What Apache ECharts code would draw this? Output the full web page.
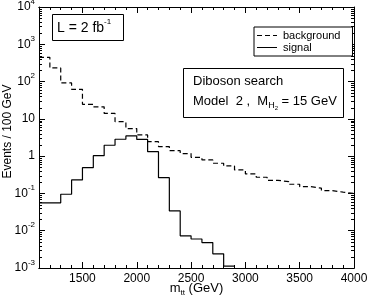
<!DOCTYPE html>
<html><head><meta charset="utf-8">
<script src="https://cdn.jsdelivr.net/npm/echarts@6/dist/echarts.min.js"></script>
<style>html,body{margin:0;padding:0;background:#fff}#c{width:369px;height:300px}</style>
</head><body><div id="c"></div>
<script>
// ---- data ----
const binStart = [1100,1200,1300,1400,1500,1600,1700,1800,1900,2000,2100,2200,2300,2400,2500,2600,2700,2800,2900,3000,3100,3200,3300,3400,3500,3600,3700,3800,3900];
const binWidth = 100;
const background = [448,232,92,62,24.6,21,14,8.4,5.5,3.7,2.45,1.8,1.4,1.17,0.93,0.79,0.645,0.546,0.427,0.333,0.272,0.225,0.207,0.176,0.152,0.138,0.119,0.108,0.1];
const signal = [0.056,0.056,0.095,0.23,0.49,1.03,1.96,2.84,3.48,2.8,1.32,0.265,0.034,0.0073,0.006,0.0048,0.0024,0.00112];
const xTickLabels = [1500,2000,2500,3000,3500,4000];
const yDecades = [-3,-2,-1,0,1,2,3,4];

const FONT = 'Liberation Sans';
const xMin = 1100, xMax = 4000, yMin = 0.001, yMax = 10000;

function steps(vals){
  const pts = []; let last = -1;
  vals.forEach((v,i)=>{ if(v!=null){ pts.push([binStart[i], v]); last = i; } });
  pts.push([binStart[last] + binWidth, vals[last]]);
  return pts;
}
// minor log tick positions (axis decoration)
const minorVals = [];
yDecades.slice(0,-1).forEach(e=>{ for(let m=2;m<=9;m++) minorVals.push([xMin, m*Math.pow(10,e)]); });

const black = '#000';
const chart = echarts.init(document.getElementById('c'), null, {renderer:'canvas'});
const baseX = {type:'value', min:xMin, max:xMax, splitLine:{show:false},
  axisLine:{show:true, onZero:false, lineStyle:{color:black,width:1}}};
const option = {
  animation:false,
  grid:{left:39, right:15, top:7, bottom:32, containLabel:false, outerBoundsMode:'none'},
  xAxis:[
    Object.assign({}, baseX, {position:'bottom', interval:100, axisTick:{inside:true,length:3,lineStyle:{color:black}}, axisLabel:{show:false}}),
    Object.assign({}, baseX, {position:'bottom', minInterval:500, maxInterval:500,
      axisTick:{inside:true,length:6,lineStyle:{color:black}},
      axisLabel:{showMinLabel:false, color:black, fontSize:12, fontFamily:FONT, margin:5,
        formatter:v=> xTickLabels.indexOf(v)>=0 ? String(v) : ''},
      name:'{a|m}{s|tt}{a| (GeV)}', nameLocation:'middle', nameGap:12, nameMoveOverlap:false,
      nameTextStyle:{color:black, rich:{a:{fontSize:13,fontFamily:FONT,color:black,lineHeight:16},
        s:{fontSize:8,fontFamily:FONT,color:black,verticalAlign:'bottom',height:6,lineHeight:6}}}}),
    Object.assign({}, baseX, {position:'top', interval:100, axisTick:{inside:true,length:3,lineStyle:{color:black}}, axisLabel:{show:false}}),
    Object.assign({}, baseX, {position:'top', minInterval:500, maxInterval:500, axisTick:{inside:true,length:6,lineStyle:{color:black}}, axisLabel:{show:false}})
  ],
  yAxis:[
    {type:'log', logBase:10, min:yMin, max:yMax, splitNumber:7, position:'left',
     splitLine:{show:false}, axisLine:{show:true,onZero:false,lineStyle:{color:black}},
     axisTick:{inside:true,length:6,lineStyle:{color:black}},
     axisLabel:{color:black, margin:4, fontFamily:FONT,
       formatter:v=>{ const e=Math.round(Math.log10(v)); if(e===0) return '{b|1}'; if(e===1) return '{b|10}'; return '{b|10}{s|'+e+'}'; },
       rich:{b:{fontSize:12,fontFamily:FONT,color:black,lineHeight:14}, s:{fontSize:8,fontFamily:FONT,color:black,verticalAlign:'top',height:3,lineHeight:3}}},
     name:'Events / 100 GeV', nameLocation:'middle', nameGap:25, nameMoveOverlap:false,
     nameTextStyle:{color:black,fontSize:12,fontFamily:FONT,padding:[0,0,0,12]}},
    {type:'log', logBase:10, min:yMin, max:yMax, splitNumber:7, position:'right',
     splitLine:{show:false}, axisLine:{show:true,onZero:false,lineStyle:{color:black}},
     axisTick:{inside:true,length:6,lineStyle:{color:black}}, axisLabel:{show:false}}
  ],
  legend:{orient:'vertical', left:254, top:27, padding:[3,12,3,3], itemGap:1, itemWidth:20, itemHeight:1.3,
    borderColor:black, borderWidth:1, borderRadius:0, backgroundColor:'#fff',
    textStyle:{fontSize:11, fontFamily:FONT, color:black, padding:[0,0,0,1]},
    data:[
      {name:'background', icon:'path://M0,0h5v1h-5z M8,0h5v1h-5z M16,0h4v1h-4z'},
      {name:'signal', icon:'path://M0,0h20v1h-20z'}
    ]},
  graphic:[
    {type:'rect', shape:{x:52.5,y:14.5,width:71,height:26}, style:{fill:'#fff',stroke:black,lineWidth:1}, z:100},
    {type:'text', x:57, y:28, z:101, style:{text:'{a|L = 2 fb}{s|-1}', align:'left', verticalAlign:'middle',
      rich:{a:{fontSize:14,fontFamily:FONT,fill:black,lineHeight:16}, s:{fontSize:8,fontFamily:FONT,fill:black,verticalAlign:'top',height:3,lineHeight:3}}}},
    {type:'rect', shape:{x:183.5,y:68.5,width:160,height:49}, style:{fill:'#fff',stroke:black,lineWidth:1}, z:100},
    {type:'text', x:193, y:81, z:101, style:{text:'Diboson search', align:'left', verticalAlign:'middle', font:'13px "Liberation Sans"', fill:black}},
    {type:'text', x:193, y:101, z:101, style:{text:'{a|Model  2 ,  M}{h|H}{t|2}{a| = 15 GeV}', align:'left', verticalAlign:'middle',
      rich:{a:{fontSize:13,fontFamily:FONT,fill:black,lineHeight:16},
            h:{fontSize:9,fontFamily:FONT,fill:black,verticalAlign:'bottom',height:7,lineHeight:7},
            t:{fontSize:6,fontFamily:FONT,fill:black,verticalAlign:'bottom',height:1,lineHeight:1}}}}
  ],
  series:[
    {type:'line', name:'background', data:steps(background), step:'end', symbol:'none', xAxisIndex:0, yAxisIndex:0,
      lineStyle:{color:black,width:1.2,type:[5,3]}, itemStyle:{color:black}, clip:true},
    {type:'line', name:'signal', data:steps(signal), step:'end', symbol:'none', xAxisIndex:0, yAxisIndex:0,
      lineStyle:{color:black,width:1.2,type:'solid'}, itemStyle:{color:black}, clip:true},
    {type:'custom', name:'minorTicks', xAxisIndex:0, yAxisIndex:0, data:minorVals, silent:true, clip:false,
      renderItem:(params, api)=>{
        const v = api.value(1);
        const pl = api.coord([xMin, v]), pr = api.coord([xMax, v]);
        const y = Math.round(pl[1]) + 0.5;
        return {type:'group', children:[
          {type:'line', shape:{x1:pl[0], y1:y, x2:pl[0]+3, y2:y}, style:{stroke:black, lineWidth:1}},
          {type:'line', shape:{x1:pr[0], y1:y, x2:pr[0]-3, y2:y}, style:{stroke:black, lineWidth:1}}
        ]};
      }}
  ]
};
chart.setOption(option);
</script></body></html>
